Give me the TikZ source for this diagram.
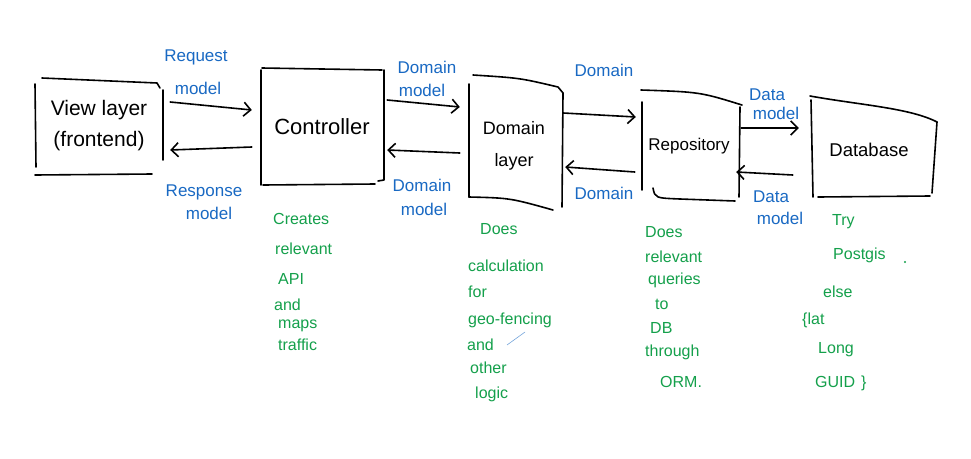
\documentclass[tikz,border=0pt]{standalone}
\usepackage{fontspec}
\setmainfont{Liberation Sans}
\usetikzlibrary{arrows.meta}
\definecolor{inkblue}{RGB}{25,105,195}
\definecolor{inkgreen}{RGB}{20,160,75}
\begin{document}
\begin{tikzpicture}[x=1pt,y=-1pt,
  stroke/.style={line width=1.6pt, line cap=round, line join=round},
  arr/.style={stroke, -{Straight Barb[length=7pt,width=14pt,line width=1.6pt]}},
  boxnode/.style={draw=none, rectangle, inner sep=0pt, align=center, font=\fontsize{21}{31}\selectfont},
  bluelbl/.style={text=inkblue, font=\fontsize{17}{19}\selectfont, inner sep=0pt},
  greennote/.style={text=inkgreen, font=\fontsize{16}{18}\selectfont, inner sep=0pt, anchor=west},
]
\path[use as bounding box, fill=white] (0,0) rectangle (971,458);

% ---- boxes (nodes carry the names and texts) ----
\node[boxnode, minimum width=128pt, minimum height=92pt] (view) at (99,126) {View layer\\(frontend)};
\node[boxnode, minimum width=124pt, minimum height=116pt, font=\fontsize{22}{26}\selectfont] (ctrl) at (322,127) {Controller};
\node[boxnode, minimum width=94pt, minimum height=124pt, font=\fontsize{18}{32}\selectfont] (dom) at (514,146) {Domain\\layer};
\node[boxnode, minimum width=100pt, minimum height=104pt, font=\fontsize{17}{20}\selectfont] (repo) at (689,146) {Repository};
\node[boxnode, minimum width=126pt, minimum height=100pt, font=\fontsize{18.5}{22}\selectfont] (db) at (869,150) {Database};

% ---- hand-drawn outlines ----
% view
\draw[stroke] (35,84) -- (36,167);
\draw[stroke] (42,78) .. controls (100,80) .. (157,83) -- (160,88);
\draw[stroke] (163,90) -- (163,160);
\draw[stroke] (35,175) -- (152,174);
% controller
\draw[stroke] (262,68) -- (382,70);
\draw[stroke] (261,70) -- (261,185);
\draw[stroke] (384,70) -- (384,180) -- (378,181);
\draw[stroke] (263,185) -- (375,184);
% domain layer
\draw[stroke] (473,75) .. controls (520,78) .. (558,87) -- (563,93);
\draw[stroke] (469,84) -- (469,197);
\draw[stroke] (563,93) -- (562,207);
\draw[stroke] (469,197) .. controls (510,198) .. (553,210);
% repository
\draw[stroke] (641,90) .. controls (700,92) .. (742,105);
\draw[stroke] (642,102) -- (642,190);
\draw[stroke] (740,107) -- (739,197);
\draw[stroke] (653,188) .. controls (655,198) .. (680,199) -- (735,201);
% database
\draw[stroke] (810,96) .. controls (860,105) and (910,108) .. (937,122);
\draw[stroke] (811,100) -- (813,197);
\draw[stroke] (937,122) -- (932,193);
\draw[stroke] (818,197) -- (930,196);

% ---- connectors ----
\draw[arr] ([xshift=7pt,yshift=24pt]view.east) -- ([xshift=-8pt,yshift=17pt]ctrl.west);
\draw[arr] ([xshift=-8pt,yshift=-20pt]ctrl.west) -- ([xshift=7pt,yshift=-24pt]view.east);
\draw[arr] ([xshift=3pt,yshift=27pt]ctrl.east) -- ([xshift=-7pt,yshift=39pt]dom.west);
\draw[arr] ([xshift=-7pt,yshift=-7pt]dom.west) -- ([xshift=3pt,yshift=-23pt]ctrl.east);
\draw[arr] ([xshift=2pt,yshift=33pt]dom.east) -- ([xshift=-3pt,yshift=29pt]repo.west);
\draw[arr] ([xshift=-4pt,yshift=-26pt]repo.west) -- ([xshift=4pt,yshift=-21pt]dom.east);
\draw[arr] ([xshift=2pt,yshift=18pt]repo.east) -- ([xshift=-7pt,yshift=22pt]db.west);
\draw[arr] ([xshift=-13pt,yshift=-25pt]db.west) -- ([xshift=-3pt,yshift=-26pt]repo.east);

% ---- blue connector labels ----
\node[bluelbl] (lreq1) at (196,57) {Request};
\node[bluelbl] (lreq2) at (198,88) {model};
\node[bluelbl] (lres1) at (204,192) {Response};
\node[bluelbl] (lres2) at (209,213) {model};
\node[bluelbl] (lcd1) at (427,67) {Domain};
\node[bluelbl] (lcd2) at (422,90) {model};
\node[bluelbl] (ldc1) at (422,185) {Domain};
\node[bluelbl] (ldc2) at (424,209) {model};
\node[bluelbl] (ldr) at (604,70) {Domain};
\node[bluelbl] (lrd) at (604,193) {Domain};
\node[bluelbl] (lrb1) at (767,95) {Data};
\node[bluelbl] (lrb2) at (776,113) {model};
\node[bluelbl] (lbr1) at (771,197) {Data};
\node[bluelbl] (lbr2) at (780,218) {model};

% ---- green notes ----
\node[greennote] (c1) at (273,219) {Creates};
\node[greennote] (c2) at (275,249) {relevant};
\node[greennote] (c3) at (278,279) {API};
\node[greennote] (c4) at (274,305) {and};
\node[greennote] (c5) at (278,326) {maps};
\node[greennote] (c6) at (278,345) {traffic};

\node[greennote] (d1) at (480,229) {Does};
\node[greennote] (d2) at (468,266) {calculation};
\node[greennote] (d3) at (468,292) {for};
\node[greennote] (d4) at (468,320) {geo-fencing};
\node[greennote] (d5) at (467,345) {and};
\node[greennote] (d6) at (470,368) {other};
\node[greennote] (d7) at (475,394) {logic};
\draw[inkblue!60, line width=0.6pt] (507,345) -- (525,332);

\node[greennote] (r1) at (645,232) {Does};
\node[greennote] (r2) at (645,257) {relevant};
\node[greennote] (r3) at (648,280) {queries};
\node[greennote] (r4) at (655,304) {to};
\node[greennote] (r5) at (650,328) {DB};
\node[greennote] (r6) at (645,352) {through};
\node[greennote] (r7) at (660,382) {ORM.};

\node[greennote] (b1) at (832,222) {Try};
\node[greennote] (b2) at (833,255) {Postgis};
\fill[inkgreen] (905,262) circle (1.2pt);
\node[greennote] (b3) at (823,292) {else};
\node[greennote] (b4) at (802,320) {\{lat};
\node[greennote] (b5) at (818,350) {Long};
\node[greennote] (b6) at (815,383) {GUID\hspace{6pt}\}};
\end{tikzpicture}
\end{document}
